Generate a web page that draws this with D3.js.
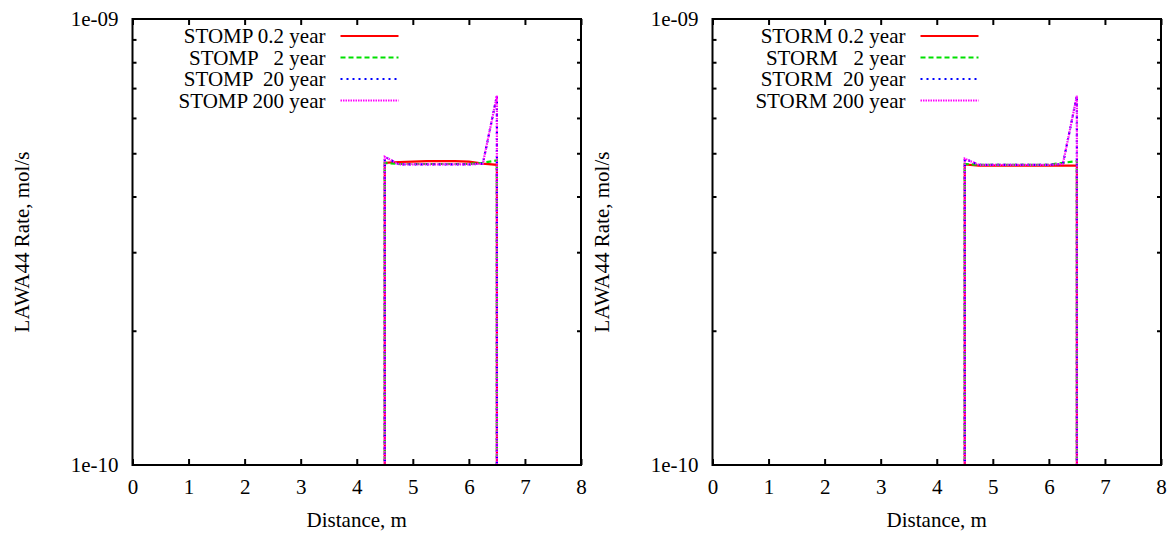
<!DOCTYPE html>
<html>
<head>
<meta charset="utf-8">
<script src="https://cdn.jsdelivr.net/npm/d3@7"></script>
<style>
  html, body { margin: 0; padding: 0; background: #fff; }
  svg text { font-family: "Liberation Serif", "Times New Roman", serif; fill: #000; }
</style>
</head>
<body>
<svg id="chart" width="1176" height="534"></svg>
<script>
// ---- data (values in mol/s) ----
const xTicks = [0, 1, 2, 3, 4, 5, 6, 7, 8];
const yTickLabels = ["1e-10", "1e-09"];
const yMinorTicks = [2e-10, 3e-10, 4e-10, 5e-10, 6e-10, 7e-10, 8e-10, 9e-10];
const distance = [4.5, 4.5, 4.75, 5.0, 5.25, 5.5, 5.75, 6.0, 6.25, 6.5, 6.5];
const yearLabels = ["0.2 year", "  2 year", " 20 year", "200 year"];

const stomp02  = [1e-20, 4.76e-10, 4.78e-10, 4.79e-10, 4.80e-10, 4.80e-10, 4.80e-10, 4.79e-10, 4.74e-10, 4.71e-10, 1e-20];
const stomp2   = [1e-20, 4.76e-10, 4.73e-10, 4.73e-10, 4.73e-10, 4.73e-10, 4.73e-10, 4.73e-10, 4.76e-10, 4.82e-10, 1e-20];
const stomp20  = [1e-20, 4.91e-10, 4.72e-10, 4.72e-10, 4.72e-10, 4.72e-10, 4.72e-10, 4.72e-10, 4.74e-10, 6.73e-10, 1e-20];
const stomp200 = [1e-20, 4.91e-10, 4.72e-10, 4.72e-10, 4.72e-10, 4.72e-10, 4.72e-10, 4.72e-10, 4.74e-10, 6.73e-10, 1e-20];

const storm02  = [1e-20, 4.72e-10, 4.69e-10, 4.69e-10, 4.69e-10, 4.69e-10, 4.69e-10, 4.69e-10, 4.69e-10, 4.69e-10, 1e-20];
const storm2   = [1e-20, 4.73e-10, 4.71e-10, 4.71e-10, 4.71e-10, 4.71e-10, 4.71e-10, 4.71e-10, 4.76e-10, 4.80e-10, 1e-20];
const storm20  = [1e-20, 4.86e-10, 4.71e-10, 4.71e-10, 4.71e-10, 4.71e-10, 4.71e-10, 4.71e-10, 4.73e-10, 6.73e-10, 1e-20];
const storm200 = [1e-20, 4.86e-10, 4.71e-10, 4.71e-10, 4.71e-10, 4.71e-10, 4.71e-10, 4.71e-10, 4.73e-10, 6.73e-10, 1e-20];

const colors = ["#ff0000", "#00e000", "#0000ff", "#ff00ff"];
const dashes = [null, "5,3", "2,4", "1.5,1"];

const svg = d3.select("#chart");
const plotTop = 19, plotBottom = 465, plotW = 448.5;
const fs = 21;

function panel(id, left, prefix, series) {
  const x = d3.scaleLinear().domain([0, 8]).range([left, left + plotW]);
  const y = d3.scaleLog().domain([1e-10, 1e-9]).range([plotBottom, plotTop]);
  const g = svg.append("g");

  g.append("clipPath").attr("id", "clip" + id)
    .append("rect").attr("x", left).attr("y", plotTop).attr("width", plotW).attr("height", plotBottom - plotTop);

  // axes (ticks inward, mirrored)
  const xb = d3.axisBottom(x).tickValues(xTicks).tickSize(-6).tickPadding(14).tickFormat(d3.format("d"));
  const xt = d3.axisTop(x).tickValues(xTicks).tickSize(-6).tickFormat("");
  const yl = d3.axisLeft(y).tickValues(yMinorTicks).tickSize(-4).tickFormat("");
  const yr = d3.axisRight(y).tickValues(yMinorTicks).tickSize(-4).tickFormat("");
  const ylab = d3.axisLeft(y).tickValues([1e-10, 1e-9]).tickSize(0).tickPadding(14)
    .tickFormat((d, i) => yTickLabels[i]);

  const ax = [
    g.append("g").attr("transform", `translate(0,${plotBottom})`).call(xb),
    g.append("g").attr("transform", `translate(0,${plotTop})`).call(xt),
    g.append("g").attr("transform", `translate(${left},0)`).call(yl),
    g.append("g").attr("transform", `translate(${left + plotW},0)`).call(yr),
    g.append("g").attr("transform", `translate(${left},0)`).call(ylab)
  ];
  ax.forEach(a => {
    a.attr("font-family", null);
    a.select(".domain").remove();
    a.selectAll(".tick line").attr("stroke", "#000").attr("stroke-width", 2);
    a.selectAll("text").attr("font-size", fs).attr("fill", "#000");
  });

  // series lines
  const line = d3.line().x((d, i) => x(distance[i])).y(d => y(d));
  const lg = g.append("g").attr("clip-path", `url(#clip${id})`);
  series.forEach((vals, k) => {
    const p = lg.append("path").datum(vals).attr("d", line)
      .attr("fill", "none").attr("stroke", colors[k]).attr("stroke-width", 2.2);
    if (dashes[k]) p.attr("stroke-dasharray", dashes[k]);
  });

  // border
  g.append("rect").attr("x", left).attr("y", plotTop).attr("width", plotW).attr("height", plotBottom - plotTop)
    .attr("fill", "none").attr("stroke", "#000").attr("stroke-width", 2);

  // legend
  yearLabels.forEach((lab, k) => {
    const cy = 36 + k * 21.5;
    g.append("text").attr("x", left + 193).attr("y", cy + 7).attr("text-anchor", "end")
      .attr("font-size", fs).attr("xml:space", "preserve").style("white-space", "pre")
      .text(prefix + " " + lab);
    const p = g.append("line").attr("x1", left + 208).attr("x2", left + 266)
      .attr("y1", cy).attr("y2", cy).attr("stroke", colors[k]).attr("stroke-width", 2.2);
    if (dashes[k]) p.attr("stroke-dasharray", dashes[k]);
  });

  // axis titles
  g.append("text").attr("x", left + plotW / 2).attr("y", 527).attr("text-anchor", "middle")
    .attr("font-size", fs).text("Distance, m");
  g.append("text").attr("transform", `translate(${left - 104},${(plotTop + plotBottom) / 2}) rotate(-90)`)
    .attr("text-anchor", "middle").attr("font-size", fs).text("LAWA44 Rate, mol/s");
}

panel("a", 132.5, "STOMP", [stomp02, stomp2, stomp20, stomp200]);
panel("b", 712.5, "STORM", [storm02, storm2, storm20, storm200]);
</script>
</body>
</html>
